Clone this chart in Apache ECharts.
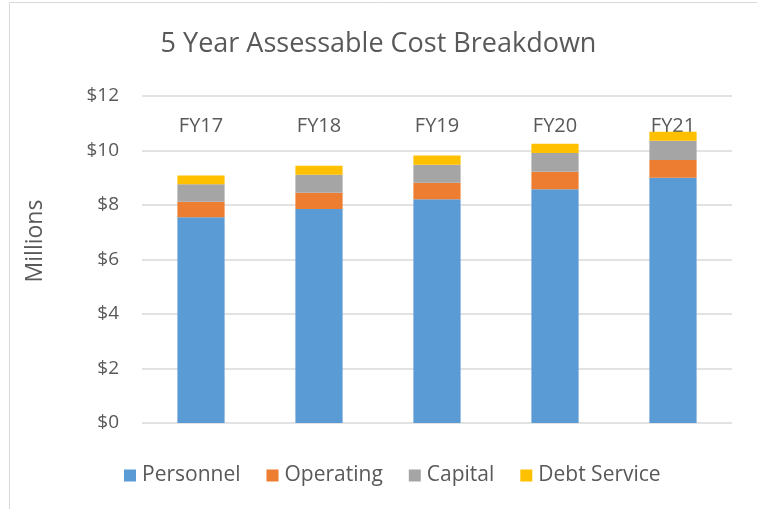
<!DOCTYPE html>
<html>
<head>
<meta charset="utf-8">
<script src="https://cdn.jsdelivr.net/npm/echarts@6/dist/echarts.min.js"></script>
<style>
  html, body { margin: 0; padding: 0; background: #fff; }
  #chart { width: 757px; height: 509px; }
</style>
</head>
<body>
<div id="chart"></div>
<script>
// values in millions
const years = ['FY17', 'FY18', 'FY19', 'FY20', 'FY21'];
const personnel = [7.55, 7.85, 8.21, 8.58, 9.00];
const operating = [0.57, 0.60, 0.61, 0.64, 0.65];
const capital = [0.64, 0.66, 0.66, 0.69, 0.71];
const debtService = [0.32, 0.33, 0.34, 0.34, 0.33];

const textColor = '#595959';
const font = 'Open Sans';

const chart = echarts.init(document.getElementById('chart'));

function bar(name, data, color) {
    return {
        name: name,
        type: 'bar',
        stack: 'cost',
        data: data,
        barCategoryGap: '60%',
        itemStyle: { color: color },
        emphasis: { disabled: true }
    };
}

chart.setOption({
    animation: false,
    textStyle: { fontFamily: font },
    title: {
        text: '5 Year Assessable Cost Breakdown',
        left: 'center',
        top: 26,
        textStyle: { fontFamily: font, fontSize: 27, fontWeight: 'normal', color: textColor }
    },
    grid: { left: 142, right: 25, top: 96, bottom: 86 },
    legend: {
        top: 460,
        left: 119,
        itemWidth: 12,
        itemHeight: 12,
        itemGap: 26,
        icon: 'rect',
        textStyle: { fontFamily: font, fontSize: 21, color: textColor, padding: [0, 0, 0, 1] }
    },
    xAxis: {
        type: 'category',
        data: years,
        position: 'top',
        axisLine: { show: false },
        axisTick: { show: false },
        axisLabel: { inside: true, margin: 20, fontSize: 20, color: textColor, fontFamily: font }
    },
    yAxis: {
        type: 'value',
        min: 0,
        max: 12,
        interval: 2,
        axisLine: { show: false },
        axisTick: { show: false },
        splitLine: { lineStyle: { color: '#d9d9d9', width: 1.5 } },
        axisLabel: {
            margin: 23,
            fontSize: 19,
            color: textColor,
            fontFamily: font,
            formatter: function (v) { return '$' + v; }
        }
    },
    graphic: [
        {
            type: 'rect',
            shape: { x: 9.5, y: 2.5, width: 760, height: 520 },
            style: { fill: 'none', stroke: '#d9d9d9', lineWidth: 1 },
            silent: true
        },
        {
            type: 'text',
            x: 35,
            y: 241,
            rotation: Math.PI / 2,
            style: {
                text: 'Millions',
                fontFamily: font,
                fontSize: 23,
                fill: textColor,
                align: 'center',
                verticalAlign: 'middle'
            },
            silent: true
        }
    ],
    series: [
        bar('Personnel', personnel, '#5B9BD5'),
        bar('Operating', operating, '#ED7D31'),
        bar('Capital', capital, '#A5A5A5'),
        bar('Debt Service', debtService, '#FFC000')
    ]
});
</script>
</body>
</html>
